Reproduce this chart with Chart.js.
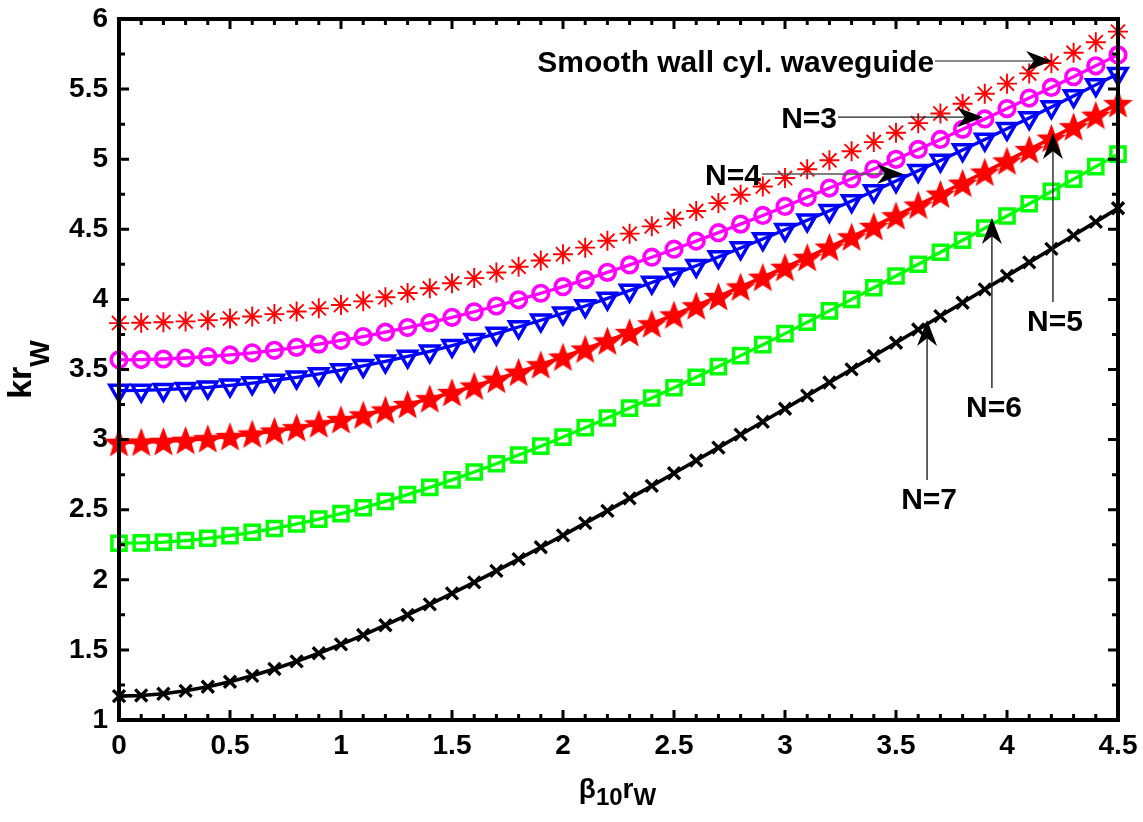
<!DOCTYPE html>
<html>
<head>
<meta charset="utf-8">
<title>kr_W versus beta_10 r_W</title>
<script src="https://cdn.jsdelivr.net/npm/chart.js@4.4.1/dist/chart.umd.min.js"></script>
<style>
  html, body { margin: 0; padding: 0; background: #fff; overflow: hidden; }
  canvas { display: block; }
</style>
</head>
<body>
<canvas id="c" width="1143" height="822"></canvas>
<script>
// Normalised propagation constant (x) and normalised frequency kr_W for each guide
const betaR = [0, 0.1, 0.2, 0.3, 0.4, 0.5, 0.6, 0.7, 0.8, 0.9,
  1.0, 1.1, 1.2, 1.3, 1.4, 1.5, 1.6, 1.7, 1.8, 1.9,
  2.0, 2.1, 2.2, 2.3, 2.4, 2.5, 2.6, 2.7, 2.8, 2.9,
  3.0, 3.1, 3.2, 3.3, 3.4, 3.5, 3.6, 3.7, 3.8, 3.9,
  4.0, 4.1, 4.2, 4.3, 4.4, 4.5];

const smoothWall = [3.831, 3.833, 3.837, 3.843, 3.852, 3.864, 3.878, 3.895, 3.914, 3.936,
  3.960, 3.986, 4.015, 4.046, 4.079, 4.115, 4.152, 4.192, 4.233, 4.277,
  4.322, 4.369, 4.418, 4.469, 4.521, 4.575, 4.630, 4.687, 4.746, 4.805,
  4.866, 4.928, 4.992, 5.057, 5.122, 5.189, 5.257, 5.326, 5.396, 5.467,
  5.539, 5.612, 5.685, 5.759, 5.834, 5.910];

const n3 = [3.569, 3.571, 3.575, 3.582, 3.592, 3.604, 3.619, 3.637, 3.658, 3.681,
  3.707, 3.735, 3.766, 3.799, 3.834, 3.872, 3.912, 3.953, 3.997, 4.044,
  4.091, 4.141, 4.193, 4.246, 4.301, 4.358, 4.416, 4.476, 4.537, 4.599,
  4.663, 4.728, 4.794, 4.861, 4.930, 4.999, 5.070, 5.141, 5.213, 5.287,
  5.361, 5.436, 5.512, 5.588, 5.666, 5.744];

const n4 = [3.350, 3.351, 3.356, 3.363, 3.373, 3.387, 3.403, 3.422, 3.444, 3.468,
  3.496, 3.526, 3.558, 3.593, 3.630, 3.670, 3.712, 3.756, 3.803, 3.851,
  3.901, 3.953, 4.007, 4.063, 4.121, 4.180, 4.240, 4.302, 4.366, 4.431,
  4.497, 4.564, 4.632, 4.702, 4.773, 4.845, 4.917, 4.991, 5.066, 5.141,
  5.217, 5.294, 5.372, 5.451, 5.530, 5.610];

const n5 = [2.980, 2.982, 2.987, 2.995, 3.007, 3.022, 3.040, 3.061, 3.085, 3.113,
  3.143, 3.176, 3.212, 3.251, 3.292, 3.336, 3.382, 3.431, 3.481, 3.534,
  3.589, 3.646, 3.704, 3.764, 3.826, 3.890, 3.955, 4.021, 4.089, 4.158,
  4.229, 4.300, 4.373, 4.446, 4.521, 4.597, 4.673, 4.751, 4.829, 4.908,
  4.988, 5.069, 5.150, 5.232, 5.314, 5.397];

const n6 = [2.261, 2.263, 2.269, 2.280, 2.296, 2.315, 2.339, 2.366, 2.398, 2.433,
  2.472, 2.514, 2.559, 2.608, 2.659, 2.713, 2.769, 2.828, 2.890, 2.953,
  3.018, 3.085, 3.154, 3.225, 3.297, 3.370, 3.445, 3.521, 3.599, 3.677,
  3.756, 3.837, 3.918, 4.000, 4.083, 4.167, 4.251, 4.336, 4.422, 4.508,
  4.595, 4.682, 4.770, 4.858, 4.947, 5.036];

const n7 = [1.170, 1.175, 1.187, 1.208, 1.237, 1.273, 1.315, 1.364, 1.418, 1.476,
  1.539, 1.606, 1.676, 1.749, 1.825, 1.903, 1.982, 2.064, 2.147, 2.232,
  2.317, 2.404, 2.492, 2.581, 2.670, 2.760, 2.851, 2.943, 3.035, 3.127,
  3.220, 3.314, 3.407, 3.501, 3.596, 3.691, 3.785, 3.881, 3.976, 4.072,
  4.168, 4.264, 4.360, 4.457, 4.553, 4.650];

// Axis tick labels
const xTickLabels = ['0', '0.5', '1', '1.5', '2', '2.5', '3', '3.5', '4', '4.5'];
const yTickLabels = ['1', '1.5', '2', '2.5', '3', '3.5', '4', '4.5', '5', '5.5', '6'];

// Callout labels: text, arrow tail and arrow tip in data units
const callouts = [
  { text: 'Smooth wall cyl. waveguide', from: [3.676, 5.70], to: [4.203, 5.70], place: 'left', tone: '#666' },
  { text: 'N=3', from: [3.239, 5.30], to: [3.892, 5.30], place: 'left', tone: '#222' },
  { text: 'N=4', from: [2.896, 4.894], to: [3.532, 4.894], place: 'left', tone: '#555' },
  { text: 'N=5', from: [4.207, 3.981], to: [4.207, 5.187], place: 'below', tone: '#222' },
  { text: 'N=6', from: [3.932, 3.368], to: [3.932, 4.581], place: 'below', tone: '#222' },
  { text: 'N=7', from: [3.640, 2.712], to: [3.640, 3.853], place: 'below', tone: '#222' }
];

const FONT = "'Liberation Sans', Arial, Helvetica, sans-serif";

const pts = (ys) => betaR.map((x, i) => ({ x: x, y: ys[i] }));

// Filled five-pointed star marker
function pentagram(color, R) {
  const size = Math.ceil(R * 2 + 4);
  const cv = document.createElement('canvas');
  cv.width = size; cv.height = size;
  const g = cv.getContext('2d');
  const cx = size / 2, cy = size / 2 + R * 0.1;
  const r = R * 0.42;
  g.beginPath();
  for (let k = 0; k < 10; k++) {
    const rad = (k % 2 === 0) ? R : r;
    const ang = -Math.PI / 2 + k * Math.PI / 5;
    const px = cx + rad * Math.cos(ang), py = cy + rad * Math.sin(ang);
    if (k === 0) g.moveTo(px, py); else g.lineTo(px, py);
  }
  g.closePath();
  g.fillStyle = color;
  g.fill();
  g.strokeStyle = color;
  g.lineWidth = 1.5;
  g.lineJoin = 'miter';
  g.stroke();
  return cv;
}

const CLEAR = 'rgba(0,0,0,0)';

const datasets = [
  { label: 'Smooth wall cyl. waveguide', data: pts(smoothWall), showLine: false,
    borderColor: '#ff0000', backgroundColor: CLEAR, pointStyle: 'star', pointRadius: 10,
    pointBorderWidth: 1.9, pointBorderColor: '#ff0000', pointBackgroundColor: CLEAR, order: 6 },
  { label: 'N=3', data: pts(n3), borderColor: '#ff00ff', borderWidth: 3.3,
    pointStyle: 'circle', pointRadius: 7.8, pointBorderWidth: 3.6,
    pointBorderColor: '#ff00ff', pointBackgroundColor: CLEAR, order: 5 },
  { label: 'N=4', data: pts(n4), borderColor: '#0000ff', borderWidth: 3.3,
    pointStyle: 'triangle', pointRotation: 180, pointRadius: 10.5, pointBorderWidth: 3.5,
    pointBorderColor: '#0000ff', pointBackgroundColor: CLEAR, order: 4 },
  { label: 'N=5', data: pts(n5), borderColor: '#ff0000', borderWidth: 3.6,
    pointStyle: pentagram('#ff0000', 13.5), pointRadius: 11, pointBorderWidth: 0,
    pointBorderColor: '#ff0000', pointBackgroundColor: '#ff0000', order: 3 },
  { label: 'N=6', data: pts(n6), borderColor: '#00ff00', borderWidth: 3.3,
    pointStyle: 'rect', pointRadius: 10, pointBorderWidth: 3.5,
    pointBorderColor: '#00ff00', pointBackgroundColor: CLEAR, order: 2 },
  { label: 'N=7', data: pts(n7), borderColor: '#000000', borderWidth: 3.6,
    pointStyle: 'crossRot', pointRadius: 8.5, pointBorderWidth: 3.3,
    pointBorderColor: '#000000', pointBackgroundColor: CLEAR, order: 1 }
];
datasets.forEach(d => { d.clip = false; d.tension = 0; d.fill = false; });

// White page behind the plot
const paper = {
  id: 'paper',
  beforeDraw(chart) {
    const ctx = chart.ctx;
    ctx.save();
    ctx.fillStyle = '#ffffff';
    ctx.fillRect(0, 0, chart.width, chart.height);
    ctx.restore();
  }
};

// Box around the axes with inward major and minor ticks on all four sides
const frame = {
  id: 'frame',
  afterDatasetsDraw(chart) {
    const { ctx, chartArea: a, scales: { x, y } } = chart;
    ctx.save();
    ctx.strokeStyle = '#000';
    ctx.lineWidth = 3;
    ctx.beginPath();
    for (let i = 0; i <= 45; i++) {
      const px = x.getPixelForValue(i / 10);
      const len = (i % 5 === 0) ? 10 : 6;
      ctx.moveTo(px, a.bottom); ctx.lineTo(px, a.bottom - len);
      ctx.moveTo(px, a.top); ctx.lineTo(px, a.top + len);
    }
    for (let j = 0; j <= 20; j++) {
      const py = y.getPixelForValue(1 + j * 0.25);
      const len = (j % 2 === 0) ? 10 : 6;
      ctx.moveTo(a.left, py); ctx.lineTo(a.left + len, py);
      ctx.moveTo(a.right, py); ctx.lineTo(a.right - len, py);
    }
    ctx.stroke();
    ctx.lineWidth = 4;
    ctx.strokeRect(a.left, a.top, a.right - a.left, a.bottom - a.top);
    ctx.restore();
  }
};

// Axis titles with subscripts
function drawRuns(ctx, runs, x0, base) {
  let x = x0;
  runs.forEach(r => {
    ctx.font = 'bold ' + r.size + 'px ' + FONT;
    ctx.fillText(r.t, x, base + r.dy);
    x += ctx.measureText(r.t).width;
  });
}
function runsWidth(ctx, runs) {
  let w = 0;
  runs.forEach(r => { ctx.font = 'bold ' + r.size + 'px ' + FONT; w += ctx.measureText(r.t).width; });
  return w;
}
const axisTitles = {
  id: 'axisTitles',
  afterDraw(chart) {
    const { ctx, chartArea: a } = chart;
    ctx.save();
    ctx.fillStyle = '#000';
    ctx.textBaseline = 'alphabetic';
    ctx.textAlign = 'left';
    const xr = [
      { t: 'β', size: 28, dy: 0 }, { t: '10', size: 24, dy: 7 },
      { t: 'r', size: 28, dy: 0 }, { t: 'W', size: 24, dy: 7 }
    ];
    const wx = runsWidth(ctx, xr);
    drawRuns(ctx, xr, (a.left + a.right) / 2 - wx / 2 - 1, 798);

    const yr = [{ t: 'kr', size: 34, dy: 0 }, { t: 'W', size: 28, dy: 18 }];
    const wy = runsWidth(ctx, yr);
    ctx.translate(31, (a.top + a.bottom) / 2);
    ctx.rotate(-Math.PI / 2);
    drawRuns(ctx, yr, -wy / 2, 0);
    ctx.restore();
  }
};

// Callout arrows and their labels
const arrows = {
  id: 'arrows',
  afterDraw(chart) {
    const { ctx, scales: { x, y } } = chart;
    ctx.save();
    callouts.forEach(c => {
      const x0 = x.getPixelForValue(c.from[0]), y0 = y.getPixelForValue(c.from[1]);
      const x1 = x.getPixelForValue(c.to[0]), y1 = y.getPixelForValue(c.to[1]);
      const len = Math.hypot(x1 - x0, y1 - y0);
      const dx = (x1 - x0) / len, dy = (y1 - y0) / len;
      const nx = -dy, ny = dx;
      const L = 26, H = 10, notch = 0.7 * L;
      ctx.strokeStyle = c.tone;
      ctx.lineWidth = 1.4;
      ctx.beginPath();
      ctx.moveTo(x0, y0);
      ctx.lineTo(x1 - dx * notch, y1 - dy * notch);
      ctx.stroke();
      ctx.fillStyle = '#000';
      ctx.beginPath();
      ctx.moveTo(x1, y1);
      ctx.lineTo(x1 - dx * L + nx * H, y1 - dy * L + ny * H);
      ctx.lineTo(x1 - dx * notch, y1 - dy * notch);
      ctx.lineTo(x1 - dx * L - nx * H, y1 - dy * L - ny * H);
      ctx.closePath();
      ctx.fill();

      ctx.font = 'bold 30px ' + FONT;
      ctx.textBaseline = 'alphabetic';
      if (c.place === 'left') {
        ctx.textAlign = 'right';
        ctx.fillText(c.text, x0 - 1, y0 + 11);
      } else {
        ctx.textAlign = 'center';
        ctx.fillText(c.text, x0 + 2, y0 + 29);
      }
    });
    ctx.restore();
  }
};

const tickFont = { family: FONT, weight: 'bold', size: 28 };

new Chart(document.getElementById('c'), {
  type: 'line',
  data: { datasets: datasets },
  options: {
    responsive: false,
    animation: false,
    devicePixelRatio: 1,
    events: [],
    layout: { padding: { top: 19, right: 25, bottom: 0, left: 0 } },
    plugins: { legend: { display: false }, tooltip: { enabled: false }, title: { display: false } },
    scales: {
      x: {
        type: 'linear', min: 0, max: 4.5,
        grid: { display: false, drawTicks: false },
        border: { display: false },
        afterBuildTicks: s => { s.ticks = xTickLabels.map(t => ({ value: parseFloat(t) })); },
        afterFit: s => { s.height = 102; s.paddingLeft = 0; s.paddingRight = 0; },
        ticks: {
          autoSkip: false, maxRotation: 0, minRotation: 0, padding: 9,
          color: '#000', font: tickFont,
          callback: (v, i) => xTickLabels[i]
        }
      },
      y: {
        type: 'linear', min: 1, max: 6,
        grid: { display: false, drawTicks: false },
        border: { display: false },
        afterBuildTicks: s => { s.ticks = yTickLabels.map(t => ({ value: parseFloat(t) })); },
        afterFit: s => { s.width = 119; s.paddingTop = 0; s.paddingBottom = 0; },
        ticks: {
          autoSkip: false, padding: 11,
          color: '#000', font: tickFont,
          callback: (v, i) => yTickLabels[i]
        }
      }
    }
  },
  plugins: [paper, frame, axisTitles, arrows]
});
</script>
</body>
</html>
